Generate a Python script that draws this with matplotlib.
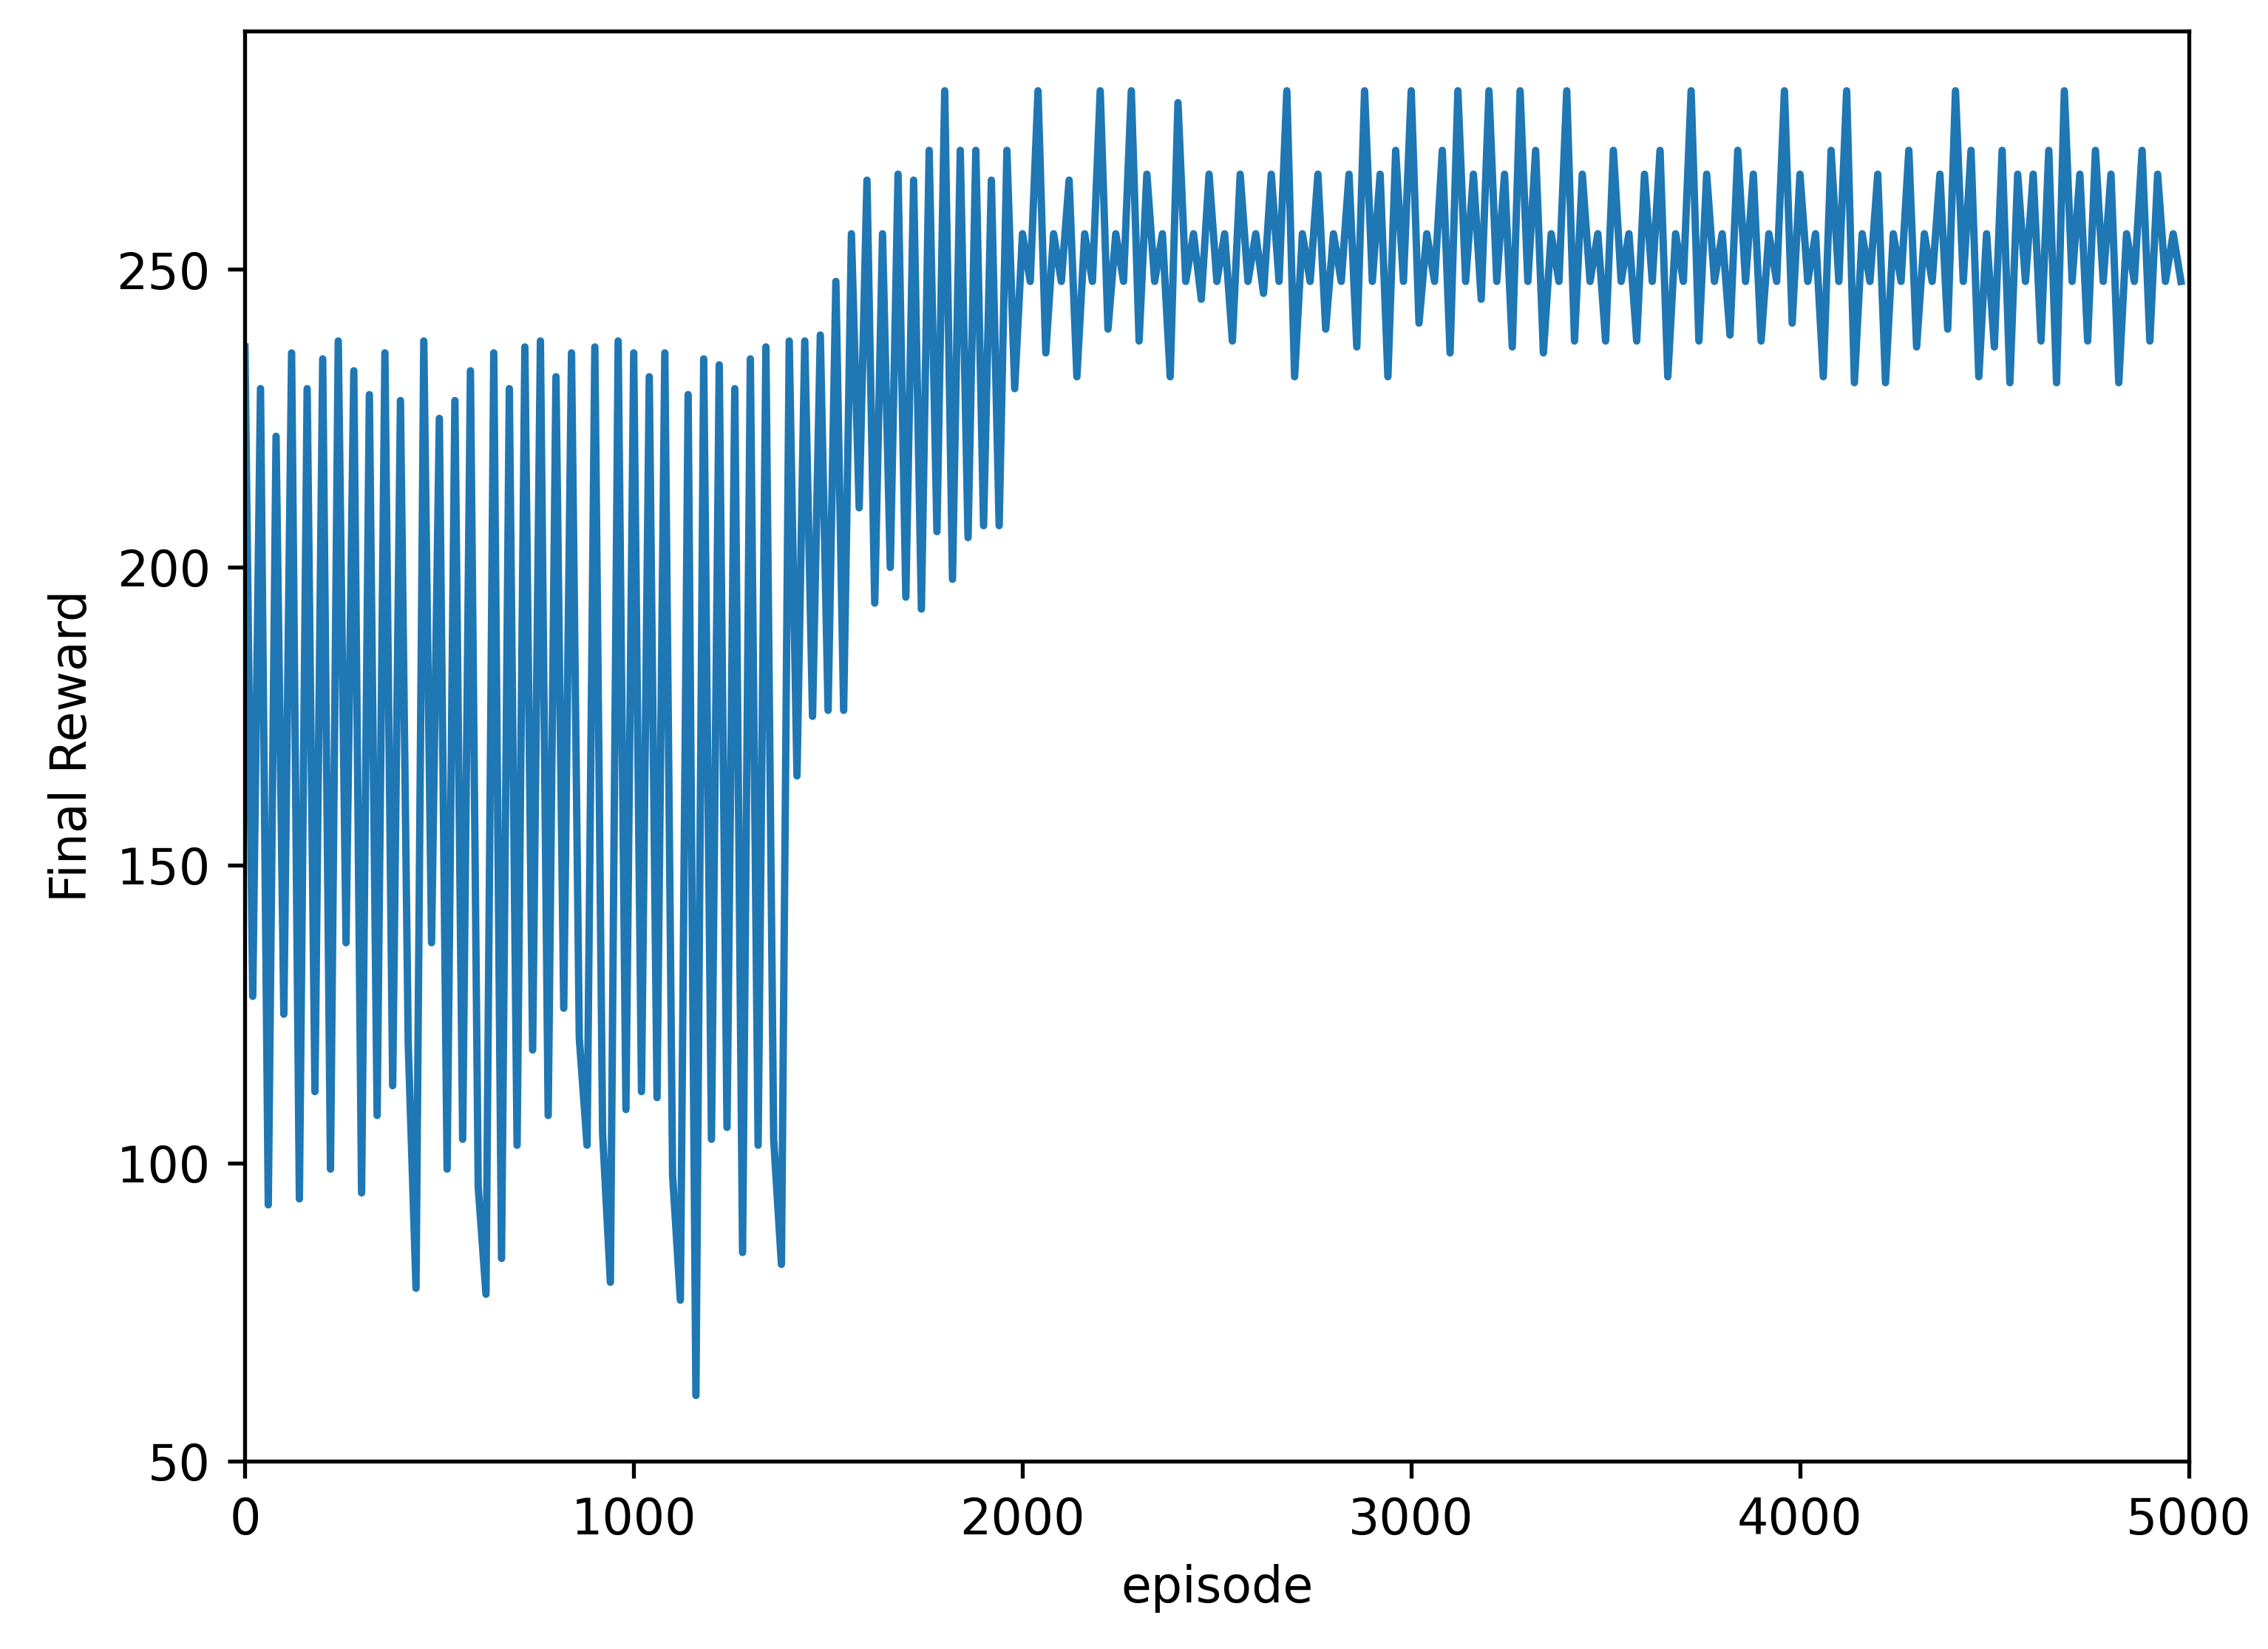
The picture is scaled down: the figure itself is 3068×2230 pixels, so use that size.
import numpy as np
import matplotlib
matplotlib.use("Agg")
import matplotlib.pyplot as plt

step = 20
early = [237,128,230,93,222,125,236,94,230,112,235,99,238,137,233,95,229,108,236,113,
         228,120,79,238,137,225,99,228,104,233,96,78,236,84,230,103,237,119,238,108,
         232,126,236,121,103,237,105,80,238,109,236,112,232,111,236,98,77,229,61,235,
         104,234,106,230,85,235,103,237,104,83]
middle = [238,165,238,175,239,176,248,176,256,
          210,265,194,256,200,266,195,265,193,270,206,280,198,270,205,270,207,265,207,270]
late = [230,256,248,280,236,256,248,265,232,256,
        248,280,240,256,248,280,238,266,248,256,
        232,278,248,256,245,266,248,256,238,266,
        248,256,246,266,248,280,232,256,248,266,
        240,256,248,266,237,280,248,266,232,270,
        248,280,241,256,248,270,236,280,248,266,
        245,280,248,266,237,280,248,270,236,256,
        248,280,238,266,248,256,238,270,248,256,
        238,266,248,270,232,256,248,280,238,266,
        248,256,239,270,248,266,238,256,248,280,
        241,266,248,256,232,270,248,280,231,256,
        248,266,231,256,248,270,237,256,248,266,
        240,280,248,270,232,256,237,270,231,266,
        248,266,238,270,231,280,248,266,238,270,
        248,266,231,256,248,270,238,266,248,256,
        248]
rewards = np.array(early + middle + late)
episodes = np.arange(len(rewards)) * step

fig = plt.figure(figsize=(6.4, 4.652), dpi=479.4)
ax = fig.add_axes([0.108, 0.114, 0.857, 0.867])
ax.plot(episodes, rewards, color="#1f77b4", linewidth=1.5)
ax.set_xlim(0, 5000)
ax.set_ylim(50, 290)
ax.set_xticks([0, 1000, 2000, 3000, 4000, 5000])
ax.set_yticks([50, 100, 150, 200, 250])
ax.set_xlabel("episode")
ax.set_ylabel("Final Reward")
fig.savefig("out.png", dpi=479.4)
